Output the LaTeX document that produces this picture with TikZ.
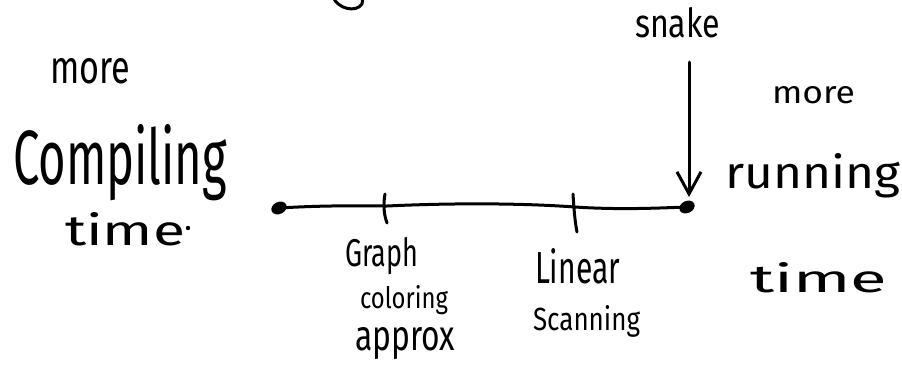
\documentclass[tikz,border=0pt]{standalone}
\usepackage{fontspec}
\setmainfont{Fira Sans}
\usetikzlibrary{arrows.meta}
% hand-sized text: width and height above the baseline, in pt
\newcommand{\hw}[3]{\resizebox{#1pt}{#2pt}{#3}}
\tikzset{
  pen/.style={line width=3pt, line cap=round, line join=round},
  word/.style={anchor=base west, inner sep=0pt, outer sep=0pt},
  dotnode/.style={ellipse, fill=black, inner sep=0pt, minimum width=16pt, minimum height=12pt, rotate=25},
  tickmark/.style={line width=3pt, line cap=round},
}
\usetikzlibrary{shapes.geometric}
\begin{document}
\begin{tikzpicture}[x=1pt, y=-1pt]
\useasboundingbox (0,0) rectangle (902,370);

% stroke cut off at the top edge
\draw[pen] (333,-3) .. controls (338,9) and (356,13) .. (362,4) -- (363,-3);

% left side labels
\node[word] (moreL) at (50,83) {\hw{80}{25}{more}};
\node[word] (compiling) at (13,184) {\hw{214}{60}{Compiling}};
\node[word] (timeL) at (65,245) {\hw{120}{33}{time}};
\fill (188,228) circle (2.2pt);

% right side labels
\node[word] (snake) at (635,37) {\hw{85}{30}{snake}};
\node[word] (moreR) at (772,103) {\hw{83}{17}{more}};
\node[word] (running) at (725,188) {\hw{175}{35}{running}};
\node[word] (timeR) at (750,292) {\hw{137}{30}{time}};

% the scale line with its end points and ticks
\node[dotnode] (L) at (279,208) {};
\node[dotnode] (R) at (687,207) {};
\coordinate (t1) at (387,206);
\coordinate (t2) at (575,207);
\draw[pen] (L.center) .. controls (330,205) and (360,206) .. (t1)
  .. controls (450,203) and (520,203) .. (t2)
  .. controls (620,210) and (660,208) .. (R.center);
\draw[tickmark] (385,194) .. controls (383,205) and (384,215) .. (387,223);
\draw[tickmark] (573,194) .. controls (574,210) and (575,222) .. (577,232);

% arrow from the top label down to the right end
\coordinate (s) at (689,62);
\draw[pen, -{Straight Barb[length=22pt, width=24pt, line width=3pt]}] (s) -- (689,197);

% labels under the ticks
\node[word] (graph) at (345,266) {\hw{73}{29}{Graph}};
\node[word] (coloring) at (360,308) {\hw{88}{23}{coloring}};
\node[word] (approx) at (355,350) {\hw{100}{23}{approx}};
\node[word] (linear) at (535,283) {\hw{85}{35}{Linear}};
\node[word] (scanning) at (533,330) {\hw{107}{25}{Scanning}};
\end{tikzpicture}
\end{document}
